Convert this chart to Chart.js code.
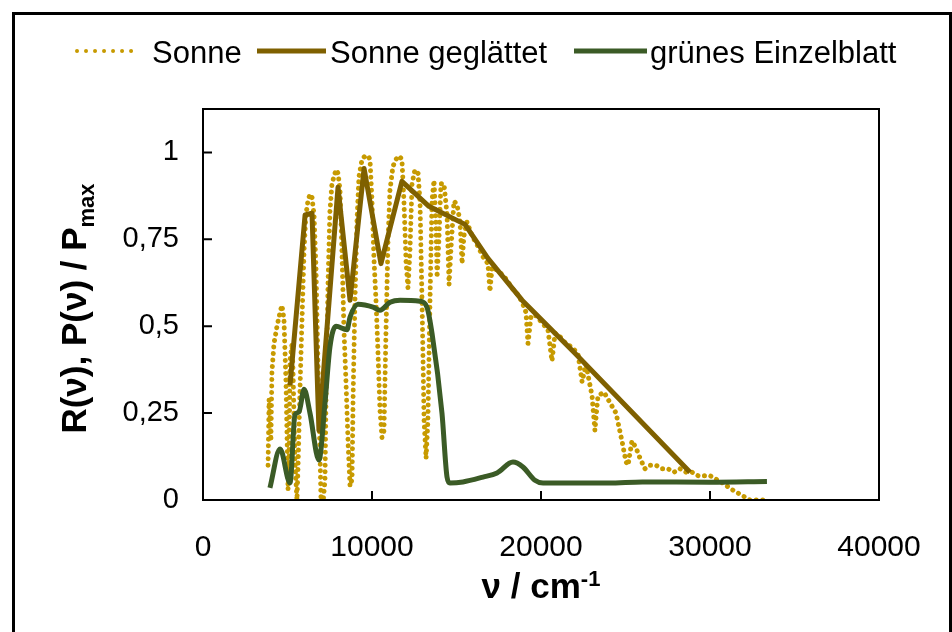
<!DOCTYPE html>
<html>
<head>
<meta charset="utf-8">
<script src="https://cdn.jsdelivr.net/npm/chart.js@4.4.1/dist/chart.umd.min.js"></script>
<style>
  html, body { margin: 0; padding: 0; background: #fff; overflow: hidden; }
  #wrap { position: relative; width: 952px; height: 632px; }
  #frame { position: absolute; left: 12px; top: 12px; width: 940px; height: 650px;
           box-sizing: border-box; border: 3px solid #000; pointer-events: none; }
  canvas { position: absolute; left: 0; top: 0; }
</style>
</head>
<body>
<div id="wrap">
  <canvas id="spektrum" width="952" height="632"></canvas>
  <div id="frame"></div>
</div>
<script>
// Sonnenspektrum (normiert), Wellenzahl in cm^-1
const sunX = [3850, 3910, 4020, 4080, 4200, 4380, 4560, 4670, 4790, 4910, 5030, 5090, 5150, 5270, 5330,
  5440, 5560, 5620, 5740, 5860, 5980, 6090, 6210, 6330, 6450, 6570, 6690, 6800, 6920, 6980, 7100, 7220,
  7280, 7400, 7510, 7630, 7750, 7870, 7990, 8110, 8220, 8340, 8460, 8580, 8700, 8820, 8880, 8990, 9110,
  9230, 9410, 9590, 9760, 9880, 10000, 10120, 10240, 10350, 10470, 10590, 10710, 10830, 10950, 11060,
  11240, 11420, 11600, 11770, 11890, 12010, 12130, 12250, 12370, 12540, 12720, 12840, 12960, 13080,
  13200, 13310, 13430, 13550, 13670, 13790, 13850, 13960, 14080, 14260, 14440, 14560, 14670, 14850,
  15030, 15210, 15330, 15440, 15620, 15920, 16270, 16570, 16860, 16980, 17100, 17460, 17870, 18280,
  18640, 18880, 19110, 19230, 19410, 19700, 20060, 20410, 20650, 20830, 21120, 21480, 21830, 22190,
  22430, 22660, 23020, 23190, 23370, 23730, 24080, 24440, 24790, 25030, 25150, 25380, 25620, 25860,
  26150, 26450, 26800, 27160, 27510, 27870, 28220, 28580, 28930, 29290, 29640, 30000, 30350, 30710,
  31010, 31300, 31660, 32010, 32370, 32780, 33140, 33370];
const sunY = [0.10, 0.29, 0.17, 0.37, 0.45, 0.50, 0.54, 0.56, 0.52, 0.34, 0.03, 0.09, 0.40, 0.45, 0.37,
  0.11, 0.00, 0.09, 0.32, 0.52, 0.72, 0.82, 0.86, 0.88, 0.87, 0.82, 0.66, 0.40, 0.14, 0.00, -0.01, 0.06,
  0.29, 0.63, 0.83, 0.91, 0.93, 0.95, 0.94, 0.89, 0.72, 0.49, 0.34, 0.17, 0.04, 0.06, 0.29, 0.57, 0.80,
  0.93, 0.98, 0.99, 0.99, 0.98, 0.86, 0.69, 0.57, 0.43, 0.26, 0.18, 0.20, 0.49, 0.75, 0.89,
  0.96, 0.98, 0.99, 0.98, 0.86, 0.69, 0.61, 0.72, 0.91, 0.95, 0.94, 0.86, 0.57, 0.23,
  0.12, 0.23, 0.57, 0.86, 0.92, 0.78, 0.64, 0.75, 0.91, 0.91, 0.82, 0.62, 0.72, 0.86,
  0.85, 0.80, 0.68, 0.76, 0.80, 0.76, 0.73, 0.70, 0.68, 0.60, 0.67, 0.66, 0.64, 0.61,
  0.59, 0.57, 0.54, 0.45, 0.53, 0.53, 0.51, 0.49, 0.40, 0.48, 0.47, 0.45, 0.44, 0.42,
  0.34, 0.39, 0.30, 0.20, 0.30, 0.31, 0.28, 0.25, 0.17, 0.11, 0.10, 0.17, 0.15, 0.12,
  0.09, 0.10, 0.10, 0.09, 0.09, 0.08, 0.09, 0.08, 0.08, 0.07, 0.07, 0.07, 0.06, 0.05,
  0.04, 0.03, 0.02, 0.01, 0.00, 0.00, 0.00, 0.00];

// geglättete Sonnenkurve
const smoothX = [5150, 6040, 6450, 6860, 7990, 8700, 9530, 10530, 11770, 13370, 15500, 16860, 18880, 22010, 28820];
const smoothY = [0.33, 0.82, 0.825, 0.20, 0.90, 0.575, 0.954, 0.68, 0.917, 0.845, 0.793, 0.695, 0.575, 0.422, 0.080];

// Reflexion grünes Einzelblatt
const leafX = [3960, 4560, 5150, 5440, 5680, 5980, 6330, 6860, 7220, 7510, 7870, 8520, 8700, 9170, 10060,
  10470, 11070, 11660, 12840, 13250, 13550, 14140, 14440, 14610, 15380, 16570, 17400, 18340, 18930,
  19640, 20120, 24000, 26000, 30000, 33370];
const leafY = [0.035, 0.147, 0.049, 0.245, 0.253, 0.319, 0.25, 0.115, 0.28, 0.44, 0.50, 0.49, 0.526, 0.563, 0.555,
  0.546, 0.569, 0.575, 0.572, 0.555, 0.48, 0.25, 0.066, 0.049, 0.052, 0.066, 0.078, 0.109, 0.095,
  0.057, 0.049, 0.049, 0.052, 0.051, 0.053];

const xTicks = [0, 10000, 20000, 30000, 40000];
const yTicks = [0, 0.25, 0.5, 0.75, 1];
const yTickLabels = ['0', '0,25', '0,5', '0,75', '1'];

const FONT = "'Liberation Sans', Arial, sans-serif";

const toPoints = (xs, ys) => xs.map((x, i) => ({ x: x, y: ys[i] }));

// Rahmen ums Diagramm und nach innen zeigende Teilstriche
const frameTicks = {
  id: 'frameTicks',
  afterDatasetsDraw(chart) {
    const { ctx, chartArea: a, scales: { x, y } } = chart;
    ctx.save();
    ctx.strokeStyle = '#000';
    ctx.lineWidth = 2;
    ctx.strokeRect(a.left, a.top, a.right - a.left, a.bottom - a.top);
    ctx.beginPath();
    xTicks.forEach(v => {
      const px = x.getPixelForValue(v);
      ctx.moveTo(px, a.bottom);
      ctx.lineTo(px, a.bottom - 9);
    });
    yTicks.forEach(v => {
      const py = y.getPixelForValue(v);
      ctx.moveTo(a.left, py);
      ctx.lineTo(a.left + 9, py);
    });
    ctx.stroke();
    ctx.restore();
  }
};

// Legende oben und Achsentitel mit Hoch-/Tiefstellung
const legendPos = [
  { x0: 77, x1: 140, tx: 152 },
  { x0: 257, x1: 326, tx: 330 },
  { x0: 574, x1: 647, tx: 650 }
];

const titles = {
  id: 'titles',
  afterDraw(chart) {
    const { ctx, chartArea: a } = chart;
    ctx.save();

    chart.data.datasets.forEach((ds, i) => {
      const p = legendPos[i];
      ctx.beginPath();
      ctx.strokeStyle = ds.borderColor;
      ctx.lineWidth = ds.borderDash ? 4 : ds.borderWidth;
      ctx.lineCap = ds.borderCapStyle || 'butt';
      ctx.setLineDash(ds.borderDash ? [0.01, 9] : []);
      ctx.moveTo(p.x0, 51);
      ctx.lineTo(p.x1, 51);
      ctx.stroke();
      ctx.setLineDash([]);
      ctx.fillStyle = '#000';
      ctx.font = '31px ' + FONT;
      ctx.textBaseline = 'alphabetic';
      ctx.textAlign = 'left';
      ctx.fillText(ds.label, p.tx, 63);
    });

    // x-Achsentitel
    ctx.fillStyle = '#000';
    const main = 'bold 35px ' + FONT;
    const small = 'bold 22px ' + FONT;
    ctx.font = main;
    const w1 = ctx.measureText('ν / cm').width;
    ctx.font = small;
    const w2 = ctx.measureText('-1').width;
    let sx = (a.left + a.right) / 2 - (w1 + w2) / 2;
    ctx.font = main;
    ctx.fillText('ν / cm', sx, 598);
    ctx.font = small;
    ctx.fillText('-1', sx + w1, 586);

    // y-Achsentitel
    ctx.translate(86, (a.top + a.bottom) / 2 + 4);
    ctx.rotate(-Math.PI / 2);
    ctx.font = main;
    const t1 = 'R(ν), P(ν) / P';
    const u1 = ctx.measureText(t1).width;
    ctx.font = small;
    const u2 = ctx.measureText('max').width;
    const sy = -(u1 + u2) / 2;
    ctx.font = main;
    ctx.fillText(t1, sy, 0);
    ctx.font = small;
    ctx.fillText('max', sy + u1, 8);
    ctx.restore();
  }
};

new Chart(document.getElementById('spektrum').getContext('2d'), {
  type: 'line',
  data: {
    datasets: [{
      label: 'Sonne',
      data: toPoints(sunX, sunY),
      borderColor: '#C79A00',
      borderWidth: 5,
      borderDash: [0.01, 6.5],
      borderCapStyle: 'round',
      fill: false,
      tension: 0,
      order: 3
    }, {
      label: 'Sonne geglättet',
      data: toPoints(smoothX, smoothY),
      borderColor: '#7F6000',
      borderWidth: 5,
      borderJoinStyle: 'round',
      fill: false,
      tension: 0,
      order: 2
    }, {
      label: 'grünes Einzelblatt',
      data: toPoints(leafX, leafY),
      borderColor: '#3B5B26',
      borderWidth: 5,
      borderJoinStyle: 'round',
      cubicInterpolationMode: 'monotone',
      fill: false,
      order: 1
    }]
  },
  options: {
    responsive: false,
    animation: false,
    devicePixelRatio: 1,
    layout: { padding: { top: 109, right: 73, left: 0, bottom: 0 } },
    elements: { point: { radius: 0 } },
    plugins: { legend: { display: false }, tooltip: { enabled: false } },
    scales: {
      x: {
        type: 'linear',
        min: 0,
        max: 40000,
        afterBuildTicks: s => { s.ticks = xTicks.map(v => ({ value: v })); },
        afterFit: s => { s.height = 132; },
        grid: { display: false },
        border: { display: false },
        ticks: {
          padding: 22,
          maxRotation: 0,
          color: '#000',
          font: { family: FONT, size: 30 },
          callback: v => String(v)
        }
      },
      y: {
        min: 0,
        max: 1.125,
        afterBuildTicks: s => { s.ticks = yTicks.map(v => ({ value: v })); },
        afterFit: s => { s.width = 203; },
        grid: { display: false },
        border: { display: false },
        ticks: {
          padding: 16,
          color: '#000',
          font: { family: FONT, size: 29 },
          callback: v => yTickLabels[yTicks.indexOf(v)]
        }
      }
    }
  },
  plugins: [frameTicks, titles]
});
</script>
</body>
</html>
